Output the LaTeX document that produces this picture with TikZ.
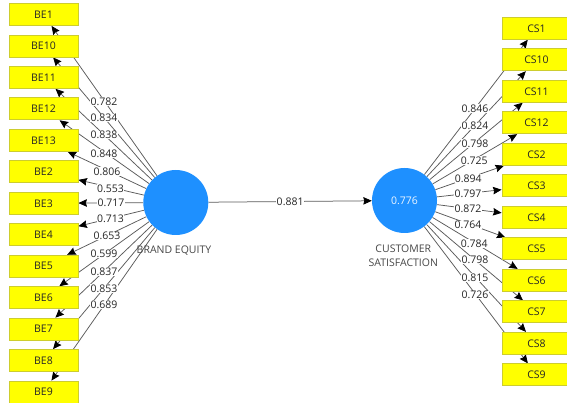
\documentclass[tikz,border=0pt]{standalone}
\usepackage{fontspec}
\setmainfont{Open Sans}
\usetikzlibrary{arrows.meta}
\pgfdeclarelayer{edges}
\pgfsetlayers{edges,main}

\definecolor{itemfill}{HTML}{FFFF00}
\definecolor{itemline}{HTML}{CDCD2E}
\definecolor{latent}{HTML}{1E90FF}
\definecolor{wire}{HTML}{5A5A5A}
\definecolor{txt}{HTML}{262626}

\tikzset{
  basefont/.style={font=\fontsize{10.5}{13.3}\selectfont},
  item/.style={basefont, draw=itemline, fill=itemfill, line width=0.8pt,
    minimum width=69pt, minimum height=22pt, inner sep=0pt, text=txt},
  construct/.style={basefont, circle, fill=latent, minimum size=65pt,
    inner sep=0pt, text=white!92!latent},
  link/.style={draw=wire, line width=0.75pt,
    -{Stealth[length=8.5pt, width=7.5pt, inset=1pt, black]}},
  loading/.style={basefont, fill=white, inner sep=0.4pt, text=txt},
  caption/.style={basefont, text=txt!85!white, align=center}
}

\begin{document}
\begin{tikzpicture}[x=1pt, y=-1pt]
  \useasboundingbox (0,0) rectangle (567,403);

  % latent variables
  \node[construct] (BE) at (175.8,202.5) {};
  \node[construct] (CS) at (404.5,200.5) {0.776};
  \node[caption] (BEname) at (174,250.7) {BRAND EQUITY};
  \node[caption] (CSname) at (403.3,255.6) {CUSTOMER\\SATISFACTION};

  % indicators
  \foreach \n [count=\i from 0] in {1,10,11,12,13,2,3,4,5,6,7,8,9}
    \node[item] (be\n) at (43.5,14.5+31.46*\i) {BE\n};
  \foreach \n [count=\i from 0] in {1,10,11,12,2,3,4,5,6,7,8,9}
    \node[item] (cs\n) at (536.5,28.3+31.5*\i) {CS\n};

  \begin{pgfonlayer}{edges}
    % outer loadings
    \foreach \n in {1,10,11,12,13,2,3,4,5,6,7,8,9}
      \draw[link] (BE) -- (be\n);
    \foreach \n in {1,10,11,12,2,3,4,5,6,7,8,9}
      \draw[link] (CS) -- (cs\n);
    % structural path
    \draw[link] (BE) -- node[loading] (path) {0.881} (CS);

    % loading values
    \foreach \n/\x/\y/\v in {1/104/101.7/0.782, 10/104/118/0.834,
        11/104/135/0.838, 12/104/153.3/0.848, 13/107/171.7/0.806,
        2/110.5/188.3/0.553, 3/111/202.3/0.717, 4/110.5/218.3/0.713,
        5/107/236/0.653, 6/104/254/0.599, 7/104/271.7/0.837,
        8/104/288.3/0.853, 9/104/304.3/0.689}
      \node[loading] (lbe\n) at (\x,\y) {\v};
    \foreach \n/\x/\y/\v in {1/475/108.3/0.846, 10/475/125.3/0.824,
        11/475/143.3/0.798, 12/474.3/160.7/0.725, 2/468.3/178.3/0.894,
        3/468/193.3/0.797, 4/468/209/0.872, 5/468/225/0.764,
        6/474.3/243.3/0.784, 7/475/260/0.798, 8/475/277.3/0.815,
        9/475/295/0.726}
      \node[loading] (lcs\n) at (\x,\y) {\v};
  \end{pgfonlayer}
\end{tikzpicture}
\end{document}
